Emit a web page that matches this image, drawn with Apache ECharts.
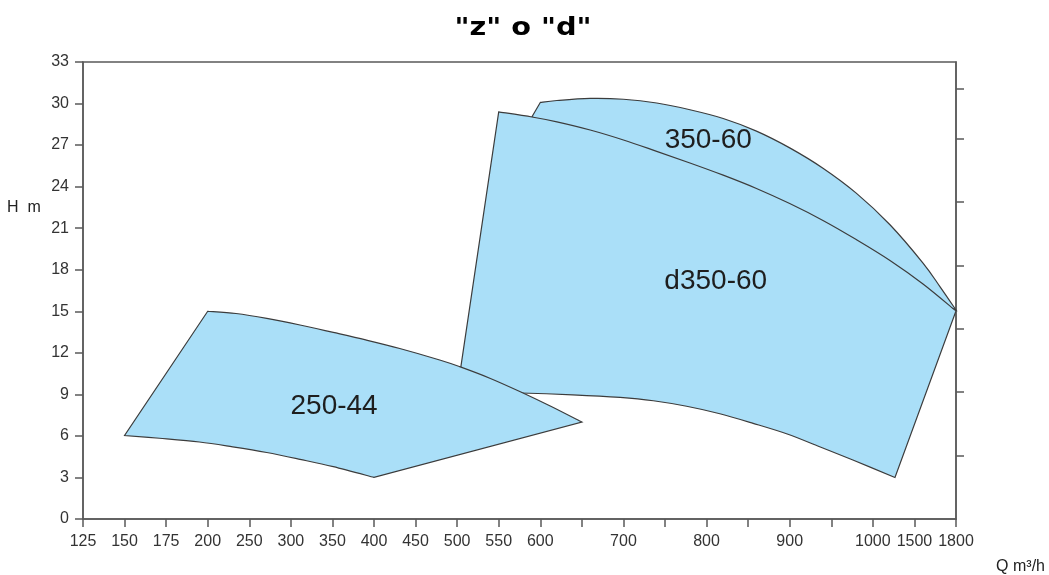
<!DOCTYPE html>
<html><head><meta charset="utf-8">
<script src="https://cdn.jsdelivr.net/npm/echarts@6/dist/echarts.min.js"></script>
<style>html,body{margin:0;padding:0;background:#fff}#c{width:1049px;height:575px}</style>
</head><body><div id="c"></div>
<script>
// X axis tick values (Q, m³/h) — the axis is non-linear: ticks are equally spaced
const xTicks = [125,150,175,200,250,300,350,400,450,500,550,600,650,700,750,800,850,900,950,1000,1500,1800];
const xHiddenLabels = [650,750,850,950];
// Y axis (H, m)
const yMin = 0, yMax = 33, yStep = 3;
// Unlabelled tick marks on the right-hand axis (in H units)
const rightTicks = [4.55, 9.17, 13.77, 18.29, 22.91, 27.46, 31.05];

const names = ['350-60', 'd350-60', '250-44'];

// 350-60: lower-left corner, then the upper curve
const q35060Corner = [590];
const h35060Corner = [29.05];
const q35060Top = [600,620,660,700,740,780,820,860,900,940,980,1206,1562,1684,1800];
const h35060Top = [30.08,30.22,30.37,30.31,30.04,29.55,28.92,28.01,26.8,25.33,23.53,21.25,18.48,16.78,15.09];

// d350-60: upper curve, lower curve (right to left)
const qD35060Top = [550,590,620,660,700,740,780,820,860,900,940,980,1206,1562,1800];
const hD35060Top = [29.4,29.03,28.68,28.09,27.37,26.55,25.71,24.83,23.87,22.78,21.56,20.18,18.67,16.97,15.02];
const qD35060Bottom = [1266,976,936,897,856,816,776,736,696,639,576,500];
const hD35060Bottom = [3.0,4.26,5.22,6.14,6.91,7.6,8.14,8.54,8.78,8.97,9.1,9.17];

// 250-44: upper curve, lower curve (right to left)
const q25044Top = [200,234,271,311,351,390,431,479,503,540,576,612,650];
const h25044Top = [15.0,14.84,14.49,14.01,13.47,12.93,12.31,11.48,11.0,10.15,9.19,8.16,7.0];
const q25044Bottom = [400,351,311,271,230,195,171,150];
const h25044Bottom = [3.0,3.78,4.31,4.8,5.21,5.56,5.83,6.03];

// label anchor points [Q, H]
const labelQ = [802, 811, 352];
const labelH = [27.37, 17.19, 8.16];

function zip(a, b){ return a.map((v,i)=>[v,b[i]]); }
// each shape: list of smooth edges, joined by straight lines, closed
const shapes = [
  [zip(q35060Corner,h35060Corner), zip(q35060Top,h35060Top)],
  [zip(qD35060Top,hD35060Top), zip(qD35060Bottom,hD35060Bottom)],
  [zip(q25044Top,h25044Top), zip(q25044Bottom,h25044Bottom)]
];

// map Q to position along the (equally spaced) tick axis
function qToPos(q){
  for (let i = 0; i < xTicks.length - 1; i++) {
    if (q <= xTicks[i+1]) return i + (q - xTicks[i]) / (xTicks[i+1] - xTicks[i]);
  }
  return xTicks.length - 1;
}

function buildPath(edges){
  let d = '';
  edges.forEach((pts, ei) => {
    d += (ei === 0 ? 'M' : 'L') + pts[0][0].toFixed(2) + ' ' + pts[0][1].toFixed(2) + ' ';
    for (let i = 0; i < pts.length - 1; i++) {
      const p0 = pts[Math.max(0, i-1)], p1 = pts[i], p2 = pts[i+1], p3 = pts[Math.min(pts.length-1, i+2)];
      const c1 = [p1[0] + (p2[0]-p0[0])/6, p1[1] + (p2[1]-p0[1])/6];
      const c2 = [p2[0] - (p3[0]-p1[0])/6, p2[1] - (p3[1]-p1[1])/6];
      d += 'C' + c1[0].toFixed(2) + ' ' + c1[1].toFixed(2) + ' ' + c2[0].toFixed(2) + ' ' + c2[1].toFixed(2) + ' ' + p2[0].toFixed(2) + ' ' + p2[1].toFixed(2) + ' ';
    }
  });
  return d + 'Z';
}

const chart = echarts.init(document.getElementById('c'), null, {renderer:'canvas'});
const axisColor = '#5a5a5a';
const labelFont = {fontFamily:'"Liberation Sans", Arial, sans-serif', fontSize:16, color:'#333'};

chart.setOption({
  animation:false,
  backgroundColor:'#fff',
  grid:{left:83, right:93, top:62, bottom:56, show:true, borderColor:axisColor, borderWidth:1.5},
  graphic:[
    {type:'text', x:523, y:29, scaleX:1.2, style:{text:'"z" o "d"', font:'bold 24px "DejaVu Sans"', fill:'#000', align:'center', verticalAlign:'middle'}},
    {type:'text', x:7, y:208, style:{text:'H  m', font:'16px "Liberation Sans"', fill:'#222', align:'left', verticalAlign:'middle'}},
    {type:'text', x:1045, y:567, style:{text:'Q m³/h', font:'16px "Liberation Sans"', fill:'#222', align:'right', verticalAlign:'middle'}}
  ],
  xAxis:{
    type:'value', min:0, max:xTicks.length-1, interval:1,
    axisLine:{show:true, lineStyle:{color:axisColor, width:1.5}},
    axisTick:{show:true, length:8, lineStyle:{color:axisColor, width:1.5}},
    splitLine:{show:false},
    axisLabel:Object.assign({margin:15, showMinLabel:true, showMaxLabel:true,
      formatter:v=>{const q=xTicks[Math.round(v)]; return xHiddenLabels.includes(q)?'':String(q);}}, labelFont)
  },
  yAxis:[{
    type:'value', min:yMin, max:yMax, interval:yStep,
    axisLine:{show:true, lineStyle:{color:axisColor, width:1.5}},
    axisTick:{show:true, length:8, lineStyle:{color:axisColor, width:1.5}},
    splitLine:{show:false},
    axisLabel:Object.assign({margin:14}, labelFont)
  },{
    type:'value', position:'right', min:yMin, max:yMax,
    axisLine:{show:true, lineStyle:{color:axisColor, width:1.5}},
    axisTick:{show:true, length:8, customValues:rightTicks, lineStyle:{color:axisColor, width:1.5}},
    splitLine:{show:false},
    axisLabel:{show:false}
  }],
  series:[{
    type:'custom',
    coordinateSystem:'cartesian2d',
    data:[0,1,2],
    clip:false,
    renderItem:function(params, api){
      const i = params.dataIndex;
      const edges = shapes[i].map(edge => edge.map(p => api.coord([qToPos(p[0]), p[1]])));
      const lp = api.coord([qToPos(labelQ[i]), labelH[i]]);
      return {type:'group', children:[
        {type:'path', shape:{pathData:buildPath(edges)}, style:{fill:'#aadff8', stroke:'#3c3c3c', lineWidth:1.2, lineJoin:'miter'}},
        {type:'text', x:lp[0], y:lp[1], z2:100, style:{text:names[i], font:'28px "Liberation Sans"', fill:'#1e1e1e', align:'center', verticalAlign:'middle'}}
      ]};
    }
  }]
});
</script></body></html>
